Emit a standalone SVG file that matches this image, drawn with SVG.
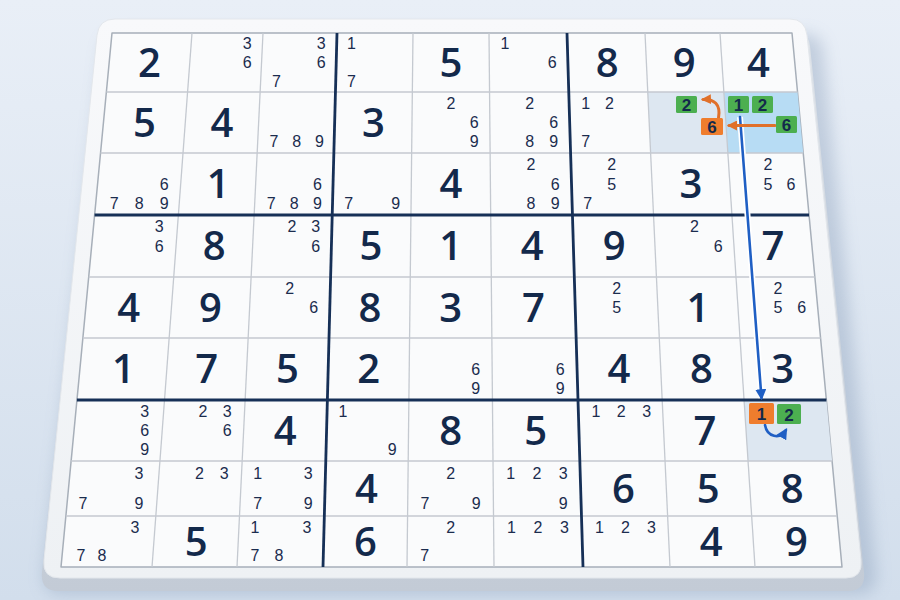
<svg xmlns="http://www.w3.org/2000/svg" width="900" height="600" viewBox="0 0 900 600">
  <defs>
    <linearGradient id="bg" x1="0" y1="0" x2="0" y2="1">
      <stop offset="0" stop-color="#e9eff7"/>
      <stop offset="1" stop-color="#d2deec"/>
    </linearGradient>
    <linearGradient id="plate" x1="0" y1="0" x2="0" y2="1">
      <stop offset="0" stop-color="#f8f9fb"/>
      <stop offset="1" stop-color="#eef1f4"/>
    </linearGradient>
    <linearGradient id="side" x1="0" y1="0" x2="0" y2="1">
      <stop offset="0" stop-color="#dde2e8"/>
      <stop offset="1" stop-color="#c3cbd6"/>
    </linearGradient>
    <filter id="blur" x="-10%" y="-10%" width="120%" height="130%">
      <feGaussianBlur stdDeviation="8"/>
    </filter>
    <marker id="ahO" viewBox="0 0 10 10" refX="8" refY="5" markerWidth="10" markerHeight="10" markerUnits="userSpaceOnUse" orient="auto">
      <path d="M0,0 L10,5 L0,10 Z" fill="#e0702a"/>
    </marker>
    <marker id="ahB" viewBox="0 0 10 10" refX="8" refY="5" markerWidth="11" markerHeight="11" markerUnits="userSpaceOnUse" orient="auto">
      <path d="M0,0 L10,5 L0,10 Z" fill="#1f5fc4"/>
    </marker>
    <style>
      .g { font-family: "Open Sans", "Liberation Sans", sans-serif; font-size: 40px; font-weight: 600; fill: #13294b; text-anchor: middle; }
      .p { font-family: "Liberation Sans", Arial, sans-serif; font-size: 16px; fill: #1b2c4e; text-anchor: middle; }
      .b { font-family: "Liberation Sans", Arial, sans-serif; font-size: 17px; font-weight: 700; fill: #13294b; text-anchor: middle; }
      .thin { stroke: #c4c9d0; stroke-width: 1.3; fill: none; }
      .thick { stroke: #163057; stroke-width: 2.8; fill: none; }
      .green { fill: #4caf50; }
      .orange { fill: #ef7d2d; }
    </style>
  </defs>

  <rect width="900" height="600" fill="url(#bg)"/>

  <g id="board">
    <path d="M 121,34 L 804,34 Q 821,34 823,50 L 876,574 Q 878,594 858,594 L 62,594 Q 42,594 44,574 L 103,50 Q 105,34 121,34 Z" fill="#7d93b1" opacity="0.35" filter="url(#blur)"/>
    <path d="M 115,30 L 792,30 Q 808,30 810,46 L 864,572 Q 866,591 848,591 L 58,591 Q 40,591 42,572 L 96,46 Q 98,30 115,30 Z" fill="url(#side)"/>
    <path d="M 115,19 L 790,19 Q 805,19 807,35 L 861,560 Q 863,578 846,578 L 60,578 Q 42,578 44,560 L 97,35 Q 99,19 115,19 Z" fill="url(#plate)" stroke="#e3e7ec" stroke-width="1"/>
    <path d="M 112,33 L 792,33 L 842,567 L 61,567 Z" fill="#fafbfc" stroke="#a7afb9" stroke-width="1.5" stroke-linejoin="round"/>
  </g>

  <g id="highlights">
    <path d="M 647.8,92 L 723.9,92 L 727.9,153 L 650.6,153 Z" fill="#dde7f1"/>
    <path d="M 723.9,92 L 797.5,92 L 803.2,153 L 727.9,153 Z" fill="#b7dcf4"/>
    <path d="M 744.1,400 L 826.4,400 L 832.1,461 L 748.1,461 Z" fill="#dde7f1"/>
  </g>

  <g id="grid">
    <g class="thin">
      <line x1="192" y1="33" x2="152" y2="567"/>
      <line x1="263" y1="33" x2="237" y2="567"/>
      <line x1="413" y1="33" x2="407" y2="567"/>
      <line x1="489" y1="33" x2="494" y2="567"/>
      <line x1="645" y1="33" x2="670" y2="567"/>
      <line x1="720" y1="33" x2="755" y2="567"/>
      <line x1="106.4" y1="92" x2="797.5" y2="92"/>
      <line x1="100.5" y1="153" x2="803.2" y2="153"/>
      <line x1="88.7" y1="277" x2="814.8" y2="277"/>
      <line x1="82.9" y1="338" x2="820.6" y2="338"/>
      <line x1="71.1" y1="461" x2="832.1" y2="461"/>
      <line x1="65.9" y1="516" x2="837.2" y2="516"/>
    </g>
    <g class="thick">
      <line x1="337" y1="33" x2="323" y2="567"/>
      <line x1="567" y1="33" x2="583" y2="567"/>
      <line x1="94.6" y1="215" x2="809" y2="215"/>
      <line x1="76.9" y1="400" x2="826.4" y2="400"/>
    </g>
  </g>

  <g id="givens">
    <text class="g" x="149.5" y="76.5">2</text>
    <text class="g" x="451" y="76.5">5</text>
    <text class="g" x="607.2" y="76.5">8</text>
    <text class="g" x="684.2" y="76.5">9</text>
    <text class="g" x="758.4" y="76.5">4</text>

    <text class="g" x="144.4" y="136.5">5</text>
    <text class="g" x="222" y="136.5">4</text>
    <text class="g" x="373.4" y="136.5">3</text>

    <text class="g" x="218.2" y="198">1</text>
    <text class="g" x="450.9" y="198">4</text>
    <text class="g" x="691" y="198">3</text>

    <text class="g" x="214.3" y="260">8</text>
    <text class="g" x="371" y="260">5</text>
    <text class="g" x="450.8" y="260">1</text>
    <text class="g" x="532.2" y="260">4</text>
    <text class="g" x="614.2" y="260">9</text>
    <text class="g" x="773" y="260">7</text>

    <text class="g" x="128.6" y="321.5">4</text>
    <text class="g" x="210.5" y="321.5">9</text>
    <text class="g" x="369.9" y="321.5">8</text>
    <text class="g" x="450.8" y="321.5">3</text>
    <text class="g" x="533.4" y="321.5">7</text>
    <text class="g" x="698" y="321.5">1</text>

    <text class="g" x="123.4" y="383">1</text>
    <text class="g" x="206.7" y="383">7</text>
    <text class="g" x="287.4" y="383">5</text>
    <text class="g" x="368.7" y="383">2</text>
    <text class="g" x="618.9" y="383">4</text>
    <text class="g" x="701.4" y="383">8</text>
    <text class="g" x="782.8" y="383">3</text>

    <text class="g" x="285.1" y="444.5">4</text>
    <text class="g" x="450.6" y="444.5">8</text>
    <text class="g" x="535.8" y="444.5">5</text>
    <text class="g" x="704.9" y="444.5">7</text>

    <text class="g" x="366.5" y="502.5">4</text>
    <text class="g" x="623.5" y="502.5">6</text>
    <text class="g" x="708.1" y="502.5">5</text>
    <text class="g" x="792.3" y="502.5">8</text>

    <text class="g" x="196.1" y="555.5">5</text>
    <text class="g" x="365.5" y="555.5">6</text>
    <text class="g" x="711.1" y="555.5">4</text>
    <text class="g" x="796.5" y="555.5">9</text>
  </g>

  <g id="candidates">
    <text class="p" x="247.2" y="49.3">3</text><text class="p" x="247.2" y="68.2">6</text>
    <text class="p" x="321.3" y="49.3">3</text><text class="p" x="321.3" y="68.2">6</text><text class="p" x="276.5" y="86.5">7</text>
    <text class="p" x="351.5" y="49.3">1</text><text class="p" x="351.5" y="86.5">7</text>
    <text class="p" x="505" y="49.3">1</text><text class="p" x="552.2" y="68.2">6</text>

    <text class="p" x="273.9" y="147.1">7</text><text class="p" x="296.7" y="147.1">8</text><text class="p" x="319.5" y="147.1">9</text>
    <text class="p" x="450.9" y="108.7">2</text><text class="p" x="474.2" y="128.2">6</text><text class="p" x="474.2" y="147.1">9</text>
    <text class="p" x="529.8" y="108.7">2</text><text class="p" x="553.8" y="128.2">6</text><text class="p" x="529.8" y="147.1">8</text><text class="p" x="553.8" y="147.1">9</text>
    <text class="p" x="585.6" y="108.7">1</text><text class="p" x="609.5" y="108.7">2</text><text class="p" x="585.6" y="147.1">7</text>

    <text class="p" x="164.1" y="189.7">6</text><text class="p" x="114.3" y="208.9">7</text><text class="p" x="139.2" y="208.9">8</text><text class="p" x="164.1" y="208.9">9</text>
    <text class="p" x="317.5" y="189.7">6</text><text class="p" x="271.1" y="208.9">7</text><text class="p" x="294.3" y="208.9">8</text><text class="p" x="317.5" y="208.9">9</text>
    <text class="p" x="348.7" y="208.9">7</text><text class="p" x="395.7" y="208.9">9</text>
    <text class="p" x="531" y="169.9">2</text><text class="p" x="555.3" y="189.7">6</text><text class="p" x="531" y="208.9">8</text><text class="p" x="555.3" y="208.9">9</text>
    <text class="p" x="611.8" y="169.9">2</text><text class="p" x="611.8" y="189.7">5</text><text class="p" x="587.6" y="208.9">7</text>
    <text class="p" x="768" y="169.9">2</text><text class="p" x="768" y="189.7">5</text><text class="p" x="790.9" y="189.7">6</text>

    <text class="p" x="159.2" y="231.9">3</text><text class="p" x="159.2" y="251.7">6</text>
    <text class="p" x="292" y="231.9">2</text><text class="p" x="315.6" y="231.9">3</text><text class="p" x="315.6" y="251.7">6</text>
    <text class="p" x="694.5" y="231.9">2</text><text class="p" x="718.2" y="251.7">6</text>

    <text class="p" x="289.7" y="293.7">2</text><text class="p" x="313.8" y="313.2">6</text>
    <text class="p" x="616.6" y="293.7">2</text><text class="p" x="616.6" y="313.2">5</text>
    <text class="p" x="777.9" y="293.7">2</text><text class="p" x="777.9" y="313.2">5</text><text class="p" x="801.8" y="313.2">6</text>

    <text class="p" x="475.6" y="374.7">6</text><text class="p" x="475.6" y="393.9">9</text>
    <text class="p" x="560.1" y="374.7">6</text><text class="p" x="560.1" y="393.9">9</text>

    <text class="p" x="144.6" y="416.7">3</text><text class="p" x="144.6" y="436.2">6</text><text class="p" x="144.6" y="455.1">9</text>
    <text class="p" x="202.9" y="416.7">2</text><text class="p" x="227.3" y="416.7">3</text><text class="p" x="227.3" y="436.2">6</text>
    <text class="p" x="343" y="416.7">1</text><text class="p" x="392.2" y="455.1">9</text>
    <text class="p" x="595.9" y="416.7">1</text><text class="p" x="621.3" y="416.7">2</text><text class="p" x="646.7" y="416.7">3</text>

    <text class="p" x="139" y="478.7">3</text><text class="p" x="83" y="509.2">7</text><text class="p" x="139" y="509.2">9</text>
    <text class="p" x="199.4" y="478.7">2</text><text class="p" x="224.3" y="478.7">3</text>
    <text class="p" x="257.7" y="478.7">1</text><text class="p" x="308.3" y="478.7">3</text><text class="p" x="257.7" y="509.2">7</text><text class="p" x="308.3" y="509.2">9</text>
    <text class="p" x="450.6" y="478.7">2</text><text class="p" x="425" y="509.2">7</text><text class="p" x="476.2" y="509.2">9</text>
    <text class="p" x="510.8" y="478.7">1</text><text class="p" x="537" y="478.7">2</text><text class="p" x="563.2" y="478.7">3</text><text class="p" x="563.2" y="509.2">9</text>

    <text class="p" x="135" y="532.7">3</text><text class="p" x="81" y="560.7">7</text><text class="p" x="102" y="560.7">8</text>
    <text class="p" x="255" y="532.7">1</text><text class="p" x="307" y="532.7">3</text><text class="p" x="255" y="560.7">7</text><text class="p" x="279" y="560.7">8</text>
    <text class="p" x="450.6" y="532.7">2</text><text class="p" x="424.7" y="560.7">7</text>
    <text class="p" x="511.5" y="532.7">1</text><text class="p" x="538" y="532.7">2</text><text class="p" x="564.5" y="532.7">3</text>
    <text class="p" x="599.5" y="532.7">1</text><text class="p" x="625.5" y="532.7">2</text><text class="p" x="651.5" y="532.7">3</text>
  </g>

  <g id="connectors" fill="none" stroke-linecap="round">
    <line x1="740" y1="117" x2="761.5" y2="398" stroke="#ffffff" stroke-width="6" stroke-linecap="butt"/>
    <line x1="740" y1="117" x2="761.5" y2="398" stroke="#1f5fc4" stroke-width="2.6" marker-end="url(#ahB)"/>
    <line x1="775" y1="125.5" x2="729" y2="125.5" stroke="#e0702a" stroke-width="3" marker-end="url(#ahO)"/>
    <path d="M 718.5,118 C 721,104 714,99 703,99.5" stroke="#e0702a" stroke-width="3" marker-end="url(#ahO)"/>
    <path d="M 765,425 C 767,437 780,440 786,430" stroke="#1f5fc4" stroke-width="2.6" marker-end="url(#ahB)"/>
  </g>

  <g id="r2c8-marks">
    <rect class="green" x="676" y="96" width="21" height="17" rx="1.5"/>
    <text class="b" x="686.5" y="110.5">2</text>
    <rect class="orange" x="701" y="118" width="22" height="17" rx="1.5"/>
    <text class="b" x="712" y="132.5">6</text>
  </g>
  <g id="r2c9-marks">
    <rect class="green" x="728" y="96" width="21" height="17" rx="1.5"/>
    <text class="b" x="738.5" y="110.5">1</text>
    <rect class="green" x="752" y="96" width="21" height="17" rx="1.5"/>
    <text class="b" x="762.5" y="110.5">2</text>
    <rect class="green" x="776" y="116" width="21" height="17" rx="1.5"/>
    <text class="b" x="786.5" y="130.5">6</text>
  </g>
  <g id="r7c9-marks">
    <rect class="orange" x="749" y="403" width="25" height="21" rx="1.5"/>
    <text class="b" x="761.5" y="420">1</text>
    <rect class="green" x="777" y="404" width="24" height="20" rx="1.5"/>
    <text class="b" x="789" y="420.5">2</text>
  </g>
</svg>
